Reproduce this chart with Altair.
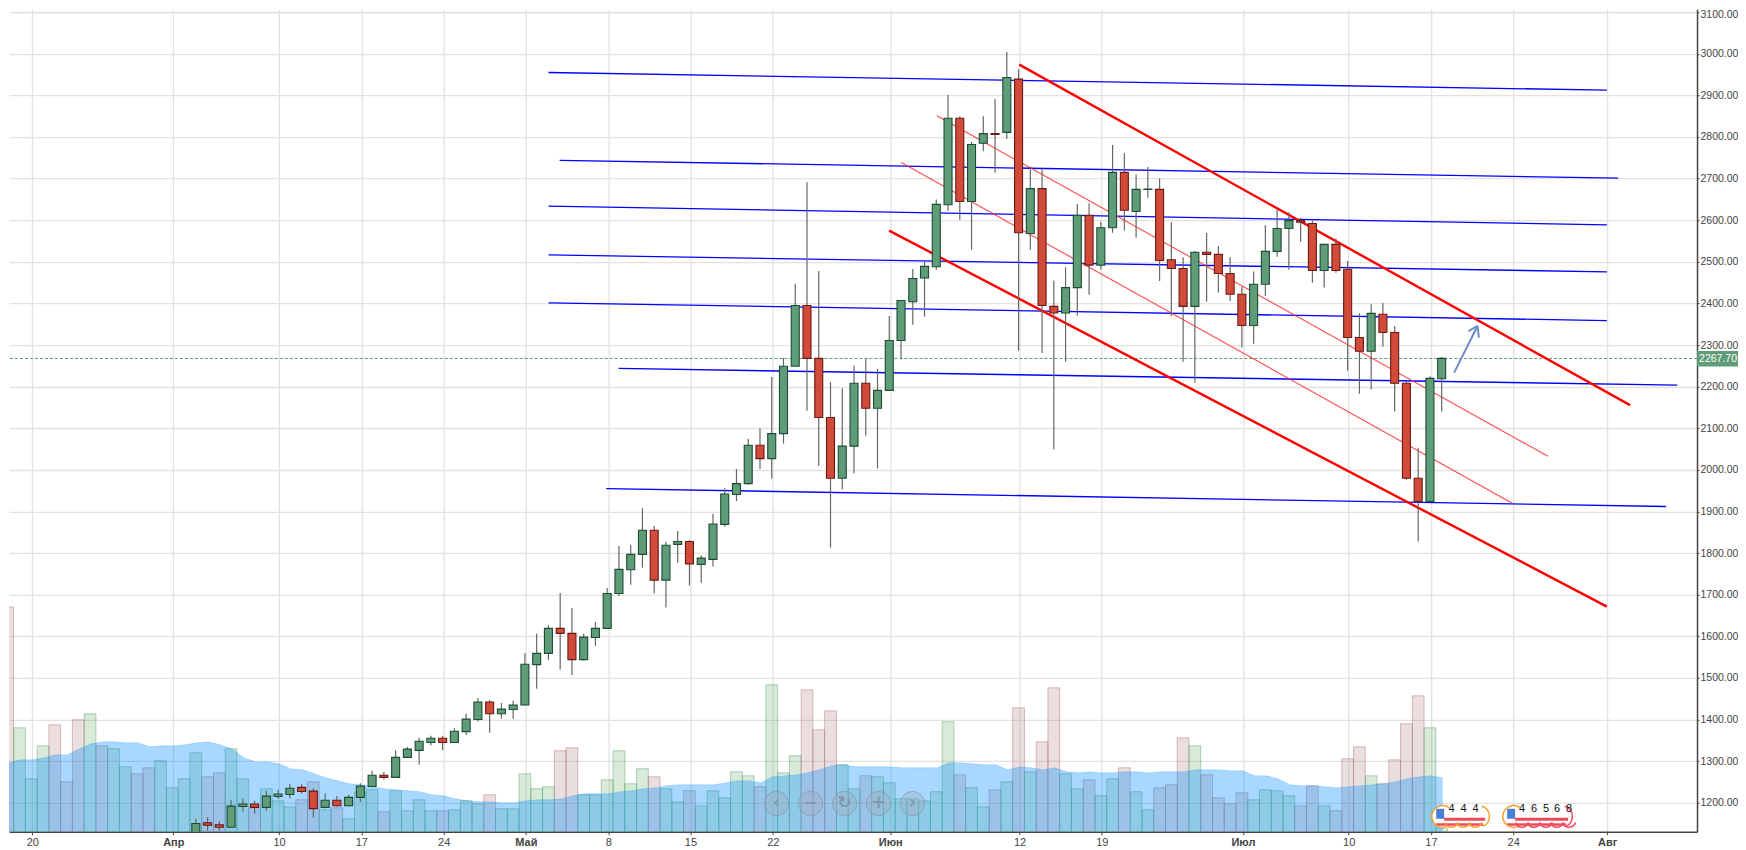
import altair as alt
import pandas as pd

# ---------- candles: days since 20 March 2017, first candle 3 April (day 14)
first_candle_day = 14
highs = [1162,1166,1155,1207,1209.5,1205,1229,1231,1245,1245,
1235,1222,1216,1219,1247,1277,1274,1326,1334,1356,
1361,1361,1379,1414,1452,1447,1440,1445,1560,1606,
1627,1704,1668,1606,1635,1716,1817,1820,1908,1865,
1827,1853,1831,1795,1894,1956,2002,2075,2100,2223,
2269,2447,2691,2478,2211,2196,2251,2267,2243,2370,
2407,2483,2500,2650,2901,2850,2788,2850,2891,3004,
2963,2729,2725,2455,2487,2639,2641,2596,2781,2761,
2710,2728,2700,2595,2511,2526,2569,2538,2511,2440,
2477,2588,2626,2619,2606,2599,2542,2556,2502,2376,
2398,2401,2346,2212,2053,2225,2271]
tops = [1150,1152,1147,1192,1197,1197,1216,1221,1235,1237,
1228,1206,1206,1213,1240,1266,1266,1309,1329,1348,
1355,1355,1372,1401,1442,1442,1425,1435,1533,1559,
1619,1619,1607,1598,1619,1703,1761,1797,1855,1855,
1819,1828,1828,1788,1870,1942,1967,2059,2059,2087,
2249,2395,2395,2268,2126,2057,2208,2208,2191,2311,
2407,2460,2489,2638,2845,2845,2782,2808,2808,2943,
2939,2676,2676,2393,2438,2612,2612,2582,2715,2715,
2674,2675,2674,2505,2484,2523,2523,2518,2472,2422,
2446,2525,2580,2599,2599,2592,2542,2542,2482,2318,
2376,2374,2330,2208,1980,2220,2268]
bottoms = [1125,1146,1141,1141,1191,1189,1189,1215,1220,1227,
1186,1189,1193,1193,1213,1239,1261,1261,1309,1326,
1345,1345,1345,1371,1400,1414,1414,1424,1435,1532,
1559,1607,1544,1544,1597,1619,1703,1760,1797,1735,
1735,1821,1774,1773,1785,1869,1941,1967,2027,2027,
2087,2249,2268,2126,1980,1980,2057,2148,2148,2191,
2311,2404,2461,2488,2637,2645,2645,2785,2806,2811,
2570,2568,2395,2377,2377,2438,2492,2492,2582,2624,
2621,2674,2503,2484,2393,2393,2518,2472,2422,2347,
2347,2446,2525,2580,2595,2479,2479,2479,2318,2285,
2285,2330,2208,1980,1924,1924,2219]
lows = [1120,1133,1133,1141,1179,1174,1181,1209,1210,1222,
1165,1186,1191,1191,1202,1239,1256,1261,1309,1292,
1338,1327,1345,1363,1395,1368,1402,1402,1434,1474,
1543,1520,1507,1542,1577,1619,1697,1724,1765,1703,
1669,1777,1722,1729,1768,1864,1925,1965,2002,1979,
2063,2249,2142,2010,1813,1953,1991,2082,2003,2191,
2266,2349,2368,2481,2623,2601,2529,2766,2714,2796,
2286,2529,2281,2049,2260,2371,2421,2481,2570,2575,
2558,2654,2454,2370,2260,2210,2404,2426,2406,2294,
2303,2418,2512,2481,2548,2450,2438,2474,2238,2183,
2193,2296,2140,1976,1828,1924,2140]
candle_dirs = ("u d d u u d u u u d "
"d u d u u u d u u u "
"u d u u u d u u u u "
"u d d u u u u u u d "
"u u d u u u u u d u "
"u u d d d u u d u u "
"u u u u u d u u d u "
"d u d d u u d u u d "
"u u d d d u d d d d "
"u u u u d d u d d d "
"u d d d d u u").split()

# ---------- volume: day -3 (17 March) to day 120 (18 July)
first_volume_day = -3
volumes = [152,225,104,53,86,107,50,112,118,86,83,65,58,64,71,
44,53,79,55,59,83,53,24,43,31,25,32,50,22,24,13,40,42,20,41,21,32,21,21,22,31,28,37,23,23,
58,43,45,81,84,37,37,52,81,48,63,55,43,30,41,26,41,34,60,56,45,147,59,76,142,102,121,67,43,56,55,
49,33,33,31,40,110,57,44,25,42,50,124,60,90,144,58,43,52,36,53,64,40,22,44,47,94,86,57,34,28,
39,32,42,41,36,26,46,26,21,73,85,56,48,72,108,136,104,4]
volume_dirs = ("d,d,u,u,u,d,d,d,u,d,u,u,d,d,u,"
"u,u,u,d,d,u,u,d,u,u,u,d,d,u,d,u,u,u,d,u,u,u,u,d,u,u,u,d,u,u,"
"u,u,u,d,d,u,u,u,u,u,u,d,u,u,d,u,u,u,u,u,d,u,u,u,d,d,d,u,u,d,u,"
"u,u,u,u,u,u,d,u,u,d,u,d,u,d,d,u,u,d,u,u,d,u,u,d,d,d,u,d,d,d,"
"d,u,u,u,u,d,d,u,d,d,d,u,d,d,d,d,u,u").split(",")
volume_ma = [59,69,72,72,74,77,77,83,88,90,90,89,89,85,86,
86,87,89,90,87,83,74,70,70,68,63,62,58,54,51,48,47,45,43,42,41,40,37,36,33,31,30,30,29,29,
31,32,32,33,36,38,38,38,40,41,43,44,46,47,47,47,47,49,51,51,49,55,56,57,59,62,66,67,65,65,65,
65,64,64,64,64,69,69,68,67,67,62,65,64,62,64,60,59,60,59,59,60,60,59,60,60,60,62,62,62,61,
61,56,56,53,47,46,46,45,44,45,46,47,48,50,53,55,56,54]

# ---------- drawn lines (day, price, day, price)
blue_lines = [
    (43.92, 2955, 133.97, 2912.6),
    (44.87, 2744, 134.93, 2701),
    (43.92, 2634, 133.97, 2589),
    (43.92, 2516.5, 133.97, 2476),
    (43.92, 2401.5, 133.97, 2358.7),
    (49.89, 2243.7, 139.96, 2203.6),
    (48.84, 1955, 138.99, 1912),
]
red_thick = [
    (83.98, 2974, 135.94, 2155.5),
    (72.90, 2575, 133.97, 1671.5),
]
red_thin = [
    (76.96, 2851, 128.96, 2032.5),
    (73.94, 2738.5, 125.92, 1920),
]
arrow_lines = [
    (120.98, 2233.6, 122.96, 2345.8),
    (122.20, 2333.7, 122.96, 2345.8),
    (122.96, 2345.8, 123.08, 2317.7),
]
last_price = 2267.70

# ---------- axis labels
tick_days = [0,12,21,28,35,42,49,56,63,73,84,91,103,112,119,126,134]
tick_labels = ["20","Апр","10","17","24","Май","8","15","22","Июн","12","19","Июл","10","17","24","Авг"]
month_days = [12,42,73,103,134]
price_ticks = list(range(1200, 3200, 100))

FONT = "Liberation Sans"
W, H = 1689, 823
X_DOM = [-1.98, 141.64]
Y_DOM = [1130.3, 3107]

candles = pd.DataFrame({
    "d": [first_candle_day + i for i in range(len(highs))],
    "high": highs, "top": tops, "bottom": bottoms, "low": lows, "dir": candle_dirs,
})
vol = pd.DataFrame({
    "d": [first_volume_day + i for i in range(len(volumes))],
    "v": volumes, "ma": volume_ma, "dir": volume_dirs,
})
vol["d0"] = vol["d"] - 0.5
vol["d1"] = vol["d"] + 0.5

x_axis = alt.Axis(
    values=tick_days, title=None, grid=True, gridColor="#e2e2e2", gridWidth=1.3,
    labelExpr="{}[indexof({}, datum.value)]".format(
        str(tick_labels).replace("'", '"'), str(tick_days)),
    labelFontWeight={"expr": "indexof({}, datum.value) >= 0 ? 'bold' : 'normal'".format(month_days)},
    labelColor="#444444", labelFont=FONT, labelFontSize=11, labelPadding=2, labelOverlap=False,
    domainColor="#444444", domainWidth=1.5, tickColor="#444444", tickSize=3, tickWidth=1,
    labelFlush=False,
)
y_axis = alt.Axis(
    values=price_ticks, orient="right", title=None, format=".2f", grid=True,
    gridColor="#e2e2e2", gridWidth=1.3, labelColor="#444444", labelFont=FONT,
    labelFontSize=10.5, labelPadding=1, labelOverlap=False, domainColor="#444444",
    domainWidth=1.5, tickColor="#444444", tickSize=2, tickWidth=1,
    labelFlush=4, labelFlushOffset=3,
)
x_scale = alt.Scale(domain=X_DOM, nice=False, zero=False, padding=0)
xq = alt.X("d:Q", scale=x_scale, axis=x_axis)
yprice = lambda f: alt.Y(f, type="quantitative",
                         scale=alt.Scale(domain=Y_DOM, nice=False, zero=False), axis=y_axis)
yvol = lambda f: alt.Y(f, type="quantitative",
                       scale=alt.Scale(domain=[0, H], nice=False, zero=False), axis=None)

# ---------- volume group
bars = alt.Chart(vol).mark_bar(clip=True, strokeWidth=1, xOffset=-1, x2Offset=-1, strokeOpacity=0.45, fillOpacity=0.25).encode(
    x=alt.X("d0:Q", scale=x_scale, axis=x_axis),
    x2="d1:Q", y=yvol("v"), y2=alt.Y2(datum=0),
    fill=alt.Fill("dir:N", scale=alt.Scale(domain=["u", "d"], range=["#67ab67", "#af7b7b"]), legend=None),
    stroke=alt.Stroke("dir:N", scale=alt.Scale(domain=["u", "d"], range=["#4fa06a", "#b06f6f"]), legend=None),
)
ma_area = alt.Chart(vol).mark_area(clip=True, color="#068fff", fillOpacity=0.35).encode(x=xq, y=yvol("ma"))
ma_line = alt.Chart(vol).mark_line(clip=True, color="#068fff", strokeOpacity=0.18, strokeWidth=1).encode(x=xq, y=yvol("ma"))
volume_group = alt.layer(bars, ma_area, ma_line)

# ---------- price group
def segments(rows, color, width, opacity=1.0):
    df = pd.DataFrame(rows, columns=["d", "p", "d2", "p2"])
    return alt.Chart(df).mark_rule(clip=True, color=color, strokeWidth=width, opacity=opacity).encode(
        x=xq, x2="d2:Q", y=yprice("p"), y2="p2:Q")

grid_anchor = alt.Chart(candles).mark_rule(opacity=0, clip=True).encode(x=xq, y=yprice("low"))
price_line = alt.Chart(pd.DataFrame({"p": [last_price]})).mark_rule(
    color="#5f9c78", strokeDash=[3, 2], strokeWidth=1).encode(y=yprice("p"))
wicks = alt.Chart(candles).mark_rule(clip=True, color="#666666", strokeWidth=1.2, xOffset=-1).encode(
    x=xq, y=yprice("low"), y2="high:Q")
bodies = alt.Chart(candles).mark_bar(clip=True, size=8, strokeWidth=1.1, xOffset=-1, x2Offset=-1).encode(
    x=xq, y=yprice("bottom"), y2="top:Q",
    fill=alt.Fill("dir:N", scale=alt.Scale(domain=["u", "d"], range=["#5f9c78", "#d24b3a"]), legend=None),
    stroke=alt.Stroke("dir:N", scale=alt.Scale(domain=["u", "d"], range=["#1d4b34", "#6a1a14"]), legend=None),
)

# ---------- decoration in pixel space (page position minus the 8px margin)
one = pd.DataFrame({"a": [0]})
M = 8
def rect(x0, x1, y0, y1, color, **kw):
    return alt.Chart(one).mark_rect(color=color, **kw).encode(
        x=alt.value(x0 - M), x2=alt.value(x1 - M), y=alt.value(y0 - M), y2=alt.value(y1 - M))
def label(x, y, text, size=10, color="#111111", weight="normal", font=FONT, **kw):
    return alt.Chart(one).mark_text(text=text, fontSize=size, color=color, fontWeight=weight, font=font,
                                    align="center", baseline="middle", **kw).encode(
        x=alt.value(x - M), y=alt.value(y - M))
def arc(x, y, r, t0, t1, color):
    return alt.Chart(one).mark_arc(radius=r, radius2=r - 1.5, theta=t0, theta2=t1, color=color).encode(
        x=alt.value(x - M), y=alt.value(y - M))

decor = [
    rect(1697, 1738, 350, 365.5, "#5f9c78"),
    label(1718, 358, "2267.70", size=10.5, color="#ffffff"),
]
button_x = [776, 810, 844, 878, 912]
button_glyph = ["‹", "−", "↻", "+", "›"]
for bx, g in zip(button_x, button_glyph):
    decor.append(alt.Chart(one).mark_point(shape="circle", filled=True, size=590, fill="#9fb0c4", fillOpacity=0.42,
                                           stroke="#7f8c9c", strokeOpacity=0.55, strokeWidth=1).encode(
        x=alt.value(bx - M), y=alt.value(802.7 - M)))
    decor.append(label(bx, 802, g, size=17, color="#7f97ad", weight="bold", font="DejaVu Sans"))

FLAG_RED, FLAG_BLUE, ORANGE, PINK = "#ee4a5c", "#4a7fd6", "#f5a033", "#f24a62"
def badge(x0, x1, digits, digit_x, colors):
    parts = [rect(x0 + 1, x1 - 3, 805, 827, "#ffffff", cornerRadius=10)]
    parts.append(rect(x0 + 13, x1 - 5, 817, 820, FLAG_RED))
    parts.append(rect(x0 + 5, x1 - 7, 822.5, 825, FLAG_RED))
    parts.append(rect(x0 + 5, x0 + 13, 808, 818, FLAG_BLUE))
    parts.append(arc(x0 + 11.5, 815.7, 11.7, 2.7, 6.9, ORANGE))
    for cx, c in zip(digit_x, colors):
        parts.append(arc(cx, 819.6, 7.6, 1.9, 4.4, c))
    parts.append(arc(x1 - 11.5, 815.7, 11.5, 0.3, 2.7, colors[-1]))
    for dx, t in zip(digit_x, digits):
        parts.append(label(dx, 808.5, t, size=11, color="#111111"))
    return parts

decor += badge(1431, 1490, ["4", "4", "4"], [1451.3, 1463.3, 1475.3], [ORANGE] * 3)
decor += badge(1502, 1573, ["4", "6", "5", "6", "8"], [1522, 1534, 1546, 1557, 1569], [PINK] * 5)

price_group = alt.layer(
    grid_anchor,
    price_line,
    segments(blue_lines, "#0000ff", 1.3),
    segments(red_thin, "#ff2a2a", 1.1, 0.85),
    segments(red_thick, "#ff0000", 2.4),
    wicks, bodies,
    segments(arrow_lines, "#6e8cc8", 2),
    *decor,
)

chart = alt.layer(volume_group, price_group).resolve_scale(
    y="independent", fill="independent", stroke="independent"
).properties(width=W, height=H,
             padding={"left": 0, "top": 0, "right": 0, "bottom": 0},
             background="white").configure(
    padding={"left": 0, "top": 0, "right": 0, "bottom": 0}
).configure_view(stroke=None)

chart.save("out.html", embed_options={"renderer": "svg", "actions": False})
